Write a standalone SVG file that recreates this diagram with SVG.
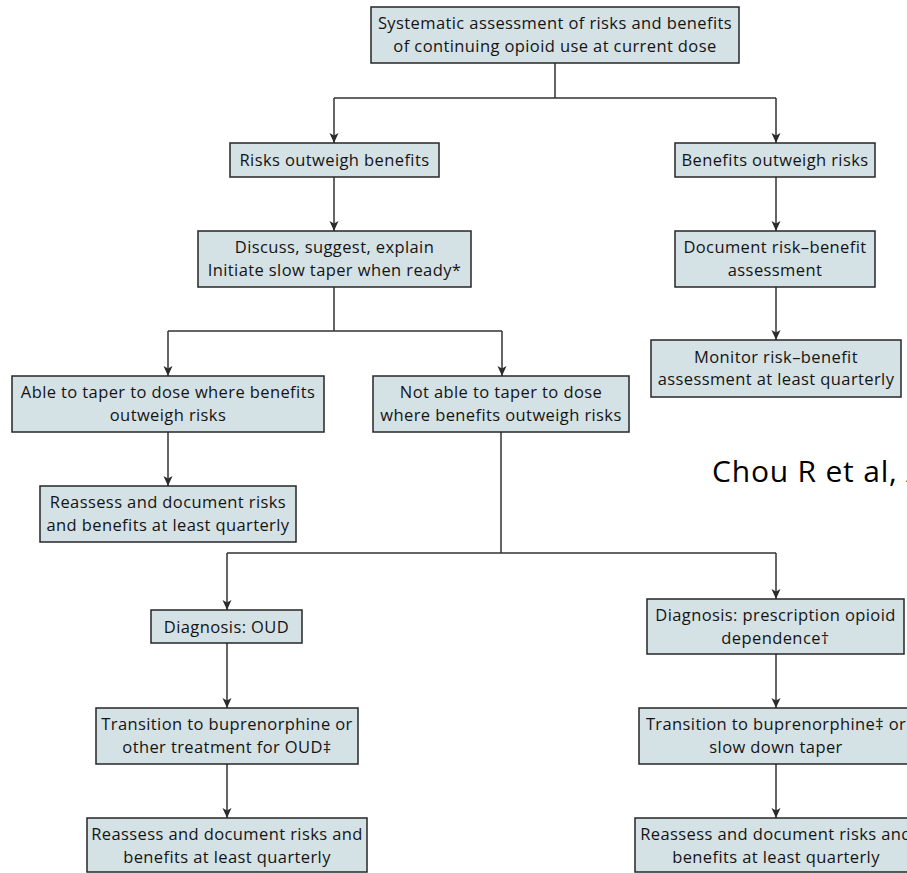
<svg xmlns="http://www.w3.org/2000/svg" width="907" height="873" viewBox="0 0 907 873">
<defs>
<marker id="arr" markerUnits="userSpaceOnUse" markerWidth="12" markerHeight="12" refX="10" refY="5" orient="auto">
<path d="M0,0.5 L10,5 L0,9.5 L2.5,5 z" fill="#2b2b2b"/>
</marker>
<style>
.box{fill:#d5e2e5;stroke:#262626;stroke-width:1.5}
.t{font-family:"Open Sans","Liberation Sans",sans-serif;font-size:16.5px;font-weight:500;letter-spacing:0.4px;fill:#141414;text-anchor:middle}
.c{fill:none;stroke:#333;stroke-width:1.5}
.a{fill:none;stroke:#333;stroke-width:1.5;marker-end:url(#arr)}
.cite{font-family:"Open Sans","Liberation Sans",sans-serif;font-size:30px;letter-spacing:0.8px;fill:#000}
</style>
</defs>
<rect width="907" height="873" fill="#fff"/>
<g id="connectors">
<path class="c" d="M555,63 V98 M334,98 H776 M334,287 V331 M168,331 H502 M501,432 V553 M227,553 H776"/>
<path class="a" d="M334,98 V143"/>
<path class="a" d="M776,98 V143"/>
<path class="a" d="M334,177 V231"/>
<path class="a" d="M776,177 V231"/>
<path class="a" d="M776,287 V340"/>
<path class="a" d="M168,331 V376"/>
<path class="a" d="M502,331 V376"/>
<path class="a" d="M168,432 V486"/>
<path class="a" d="M227,553 V610"/>
<path class="a" d="M776,553 V599"/>
<path class="a" d="M227,643 V708"/>
<path class="a" d="M227,764 V818"/>
<path class="a" d="M776,654 V708"/>
<path class="a" d="M776,764 V818"/>
</g>
<g id="n-top"><rect class="box" x="371" y="7" width="368" height="56"/><text class="t" x="555" y="29">Systematic assessment of risks and benefits</text><text class="t" x="555" y="51.5">of continuing opioid use at current dose</text></g>
<g id="n-risks"><rect class="box" x="230" y="143" width="209" height="34"/><text class="t" x="334.5" y="166">Risks outweigh benefits</text></g>
<g id="n-benefits"><rect class="box" x="675" y="143" width="200" height="34"/><text class="t" x="775" y="166">Benefits outweigh risks</text></g>
<g id="n-discuss"><rect class="box" x="198" y="231" width="273" height="56"/><text class="t" x="334.5" y="253">Discuss, suggest, explain</text><text class="t" x="334.5" y="275.5">Initiate slow taper when ready*</text></g>
<g id="n-document"><rect class="box" x="675" y="231" width="200" height="56"/><text class="t" x="775" y="253">Document risk–benefit</text><text class="t" x="775" y="275.5">assessment</text></g>
<g id="n-monitor"><rect class="box" x="651" y="340" width="250" height="57"/><text class="t" x="776" y="362.5">Monitor risk–benefit</text><text class="t" x="776" y="385">assessment at least quarterly</text></g>
<g id="n-able"><rect class="box" x="12" y="376" width="312" height="56"/><text class="t" x="168" y="398">Able to taper to dose where benefits</text><text class="t" x="168" y="420.5">outweigh risks</text></g>
<g id="n-notable"><rect class="box" x="373" y="376" width="256" height="56"/><text class="t" x="501" y="398">Not able to taper to dose</text><text class="t" x="501" y="420.5">where benefits outweigh risks</text></g>
<g id="n-reassess1"><rect class="box" x="40" y="486" width="256" height="56"/><text class="t" x="168" y="508">Reassess and document risks</text><text class="t" x="168" y="530.5">and benefits at least quarterly</text></g>
<g id="n-oud"><rect class="box" x="151" y="610" width="151" height="33"/><text class="t" x="226.5" y="632.5">Diagnosis: OUD</text></g>
<g id="n-pod"><rect class="box" x="647" y="599" width="257" height="55"/><text class="t" x="775.5" y="621">Diagnosis: prescription opioid</text><text class="t" x="775.5" y="643.5">dependence†</text></g>
<g id="n-trans1"><rect class="box" x="96" y="708" width="262" height="56"/><text class="t" x="227" y="730">Transition to buprenorphine or</text><text class="t" x="227" y="752.5">other treatment for OUD‡</text></g>
<g id="n-trans2"><rect class="box" x="639" y="708" width="274" height="56"/><text class="t" x="776" y="730">Transition to buprenorphine‡ or</text><text class="t" x="776" y="752.5">slow down taper</text></g>
<g id="n-reassess2"><rect class="box" x="87" y="818" width="280" height="54"/><text class="t" x="227" y="840">Reassess and document risks and</text><text class="t" x="227" y="862.5">benefits at least quarterly</text></g>
<g id="n-reassess3"><rect class="box" x="635" y="818" width="282" height="54"/><text class="t" x="776" y="840">Reassess and document risks and</text><text class="t" x="776" y="862.5">benefits at least quarterly</text></g>
<text class="cite" x="712" y="482">Chou R et al, A</text>
</svg>
